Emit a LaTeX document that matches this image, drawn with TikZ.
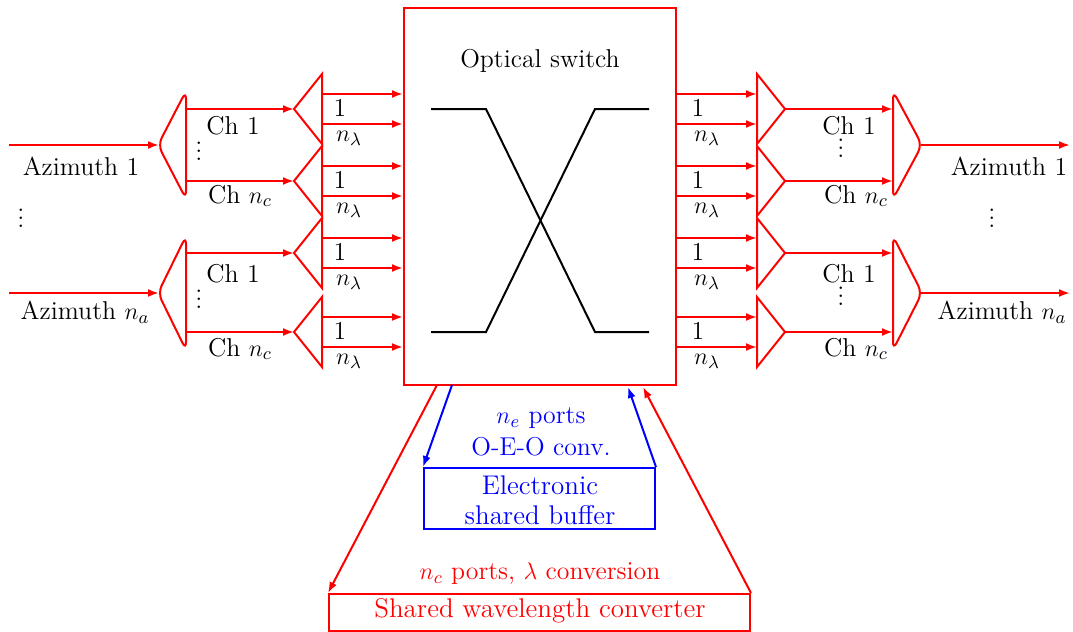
\documentclass[tikz,border=0pt]{standalone}
\usetikzlibrary{arrows.meta}
\tikzset{
  tip/.style={-{Latex[length=5.5pt,width=4pt]}},
  redline/.style={draw=red,line width=1pt},
  redarrow/.style={draw=red,line width=1pt,tip},
  demuxshape/.style={draw=red,line width=1pt,rounded corners=4pt},
  lbl/.style={inner sep=0pt,font=\fontsize{12.9}{15}\selectfont},
  biglbl/.style={inner sep=0pt,font=\fontsize{13.5}{15}\selectfont},
  redlbl/.style={biglbl,text=red},
  bluelbl/.style={biglbl,text=blue}
}
\begin{document}
\begin{tikzpicture}[x=0.5pt,y=-0.5pt]
\useasboundingbox (0,0) rectangle (1073,632);
\node[draw=red,line width=1pt,minimum width=136pt,minimum height=188.5pt,inner sep=0pt] (switchbox) at (540,196.5) {};
\node[lbl] (switchlbl) at (540,61) {Optical switch};
% small couplers on both sides of the switch
\foreach \y [count=\i] in {109,181,253,332}{
  \coordinate (tipL\i) at (294,\y);
  \coordinate (topL\i) at (322,\y-35);
  \coordinate (botL\i) at (322,\y+35);
  \coordinate (tipR\i) at (785,\y);
  \coordinate (topR\i) at (757,\y-35);
  \coordinate (botR\i) at (757,\y+35);
  \draw[redline] (tipL\i) -- (topL\i) -- (botL\i) -- cycle;
  \draw[redline] (tipR\i) -- (topR\i) -- (botR\i) -- cycle;
  \coordinate (oneL\i) at (322,\y-15);
  \coordinate (lamL\i) at (322,\y+15);
  \coordinate (oneR\i) at (757,\y-15);
  \coordinate (lamR\i) at (757,\y+15);
  \draw[redarrow] (oneL\i) -- (oneL\i -| switchbox.west);
  \draw[redarrow] (lamL\i) -- (lamL\i -| switchbox.west);
  \draw[redarrow] (oneR\i -| switchbox.east) -- (oneR\i);
  \draw[redarrow] (lamR\i -| switchbox.east) -- (lamR\i);
  \node[lbl] (oneLlbl\i) at (340,\y-1) {1};
  \node[lbl] (lamLlbl\i) at (349,\y+29) {$n_\lambda$};
  \node[lbl] (oneRlbl\i) at (698,\y-1) {1};
  \node[lbl] (lamRlbl\i) at (707,\y+29) {$n_\lambda$};
}
% demux and mux per azimuth
\foreach \y/\h/\a/\b [count=\i] in {145/54/1/2,293/57/3/4}{
  \coordinate (apexL\i) at (158,\y);
  \coordinate (upL\i) at (186,\y-\h);
  \coordinate (lowL\i) at (186,\y+\h);
  \coordinate (apexR\i) at (922,\y);
  \coordinate (upR\i) at (893,\y-\h);
  \coordinate (lowR\i) at (893,\y+\h);
  \draw[demuxshape] (apexL\i) -- (upL\i) -- (lowL\i) -- cycle;
  \draw[demuxshape] (apexR\i) -- (upR\i) -- (lowR\i) -- cycle;
  \coordinate (inL\i) at (9,\y);
  \coordinate (endL\i) at (159,\y);
  \coordinate (outR\i) at (921,\y);
  \coordinate (endR\i) at (1070,\y);
  \draw[redarrow] (inL\i) -- (endL\i);
  \draw[redarrow] (outR\i) -- (endR\i);
  \draw[redarrow] (tipL\a -| upL\i) -- (tipL\a);
  \draw[redarrow] (tipL\b -| upL\i) -- (tipL\b);
  \draw[redarrow] (tipR\a) -- (tipR\a -| upR\i);
  \draw[redarrow] (tipR\b) -- (tipR\b -| upR\i);
  \node[lbl] (chLlbl\a) at (233,\y-19) {Ch 1};
  \node[lbl] (chLlbl\b) at (240,\y+\i*5+46) {Ch $n_c$};
  \node[lbl] (chRlbl\a) at (849,\y-19) {Ch 1};
  \node[lbl] (chRlbl\b) at (856,\y+\i*5+46) {Ch $n_c$};
  \node[lbl] (vdotL\i) at (199,\y) {$\vdots$};
  \node[lbl] (vdotR\i) at (841,\y-3) {$\vdots$};
}
\node[lbl] (azL1) at (81,166) {Azimuth 1};
\node[lbl] (azL2) at (85,312) {Azimuth $n_a$};
\node[lbl] (azR1) at (1009,166) {Azimuth 1};
\node[lbl] (azR2) at (1002,312) {Azimuth $n_a$};
\node[lbl] (vdotfarL) at (21,212) {$\vdots$};
\node[lbl] (vdotfarR) at (992,212) {$\vdots$};
% crossing inside the switch
\coordinate (crossA) at (431,109);
\coordinate (crossB) at (486,109);
\coordinate (crossC) at (595,332);
\coordinate (crossD) at (649,332);
\coordinate (crossE) at (431,332);
\coordinate (crossF) at (486,332);
\coordinate (crossG) at (595,109);
\coordinate (crossH) at (649,109);
\draw[line width=1pt] (crossA) -- (crossB) -- (crossC) -- (crossD);
\draw[line width=1pt] (crossE) -- (crossF) -- (crossG) -- (crossH);
% shared buffer
\node[draw=blue,line width=1pt,minimum width=115.5pt,minimum height=30.5pt,inner sep=0pt] (bufferbox) at (539.5,498.5) {};
\node[bluelbl] (bufferlbl1) at (540,485) {Electronic};
\node[bluelbl] (bufferlbl2) at (540,515) {shared buffer};
\node[lbl,text=blue] (portslbl) at (541,418) {$n_e$ ports};
\node[lbl,text=blue] (oeolbl) at (541,447) {O-E-O conv.};
\coordinate (blueout) at (452,385);
\coordinate (bluein) at (628,387);
\draw[draw=blue,line width=1pt,tip] (blueout) -- (bufferbox.north west);
\draw[draw=blue,line width=1pt,tip] (bufferbox.north east) -- (bluein);
% shared converter
\node[draw=red,line width=1pt,minimum width=210.5pt,minimum height=18.5pt,inner sep=0pt] (convbox) at (539.5,612.5) {};
\node[redlbl] (convlbl) at (540,611) {Shared wavelength converter};
\node[lbl,text=red] (convports) at (540,574) {$n_c$ ports, $\lambda$ conversion};
\coordinate (redout) at (437,385);
\coordinate (redin) at (643,387);
\draw[redarrow] (redout) -- (convbox.north west);
\draw[redarrow] (convbox.north east) -- (redin);
\end{tikzpicture}
\end{document}
